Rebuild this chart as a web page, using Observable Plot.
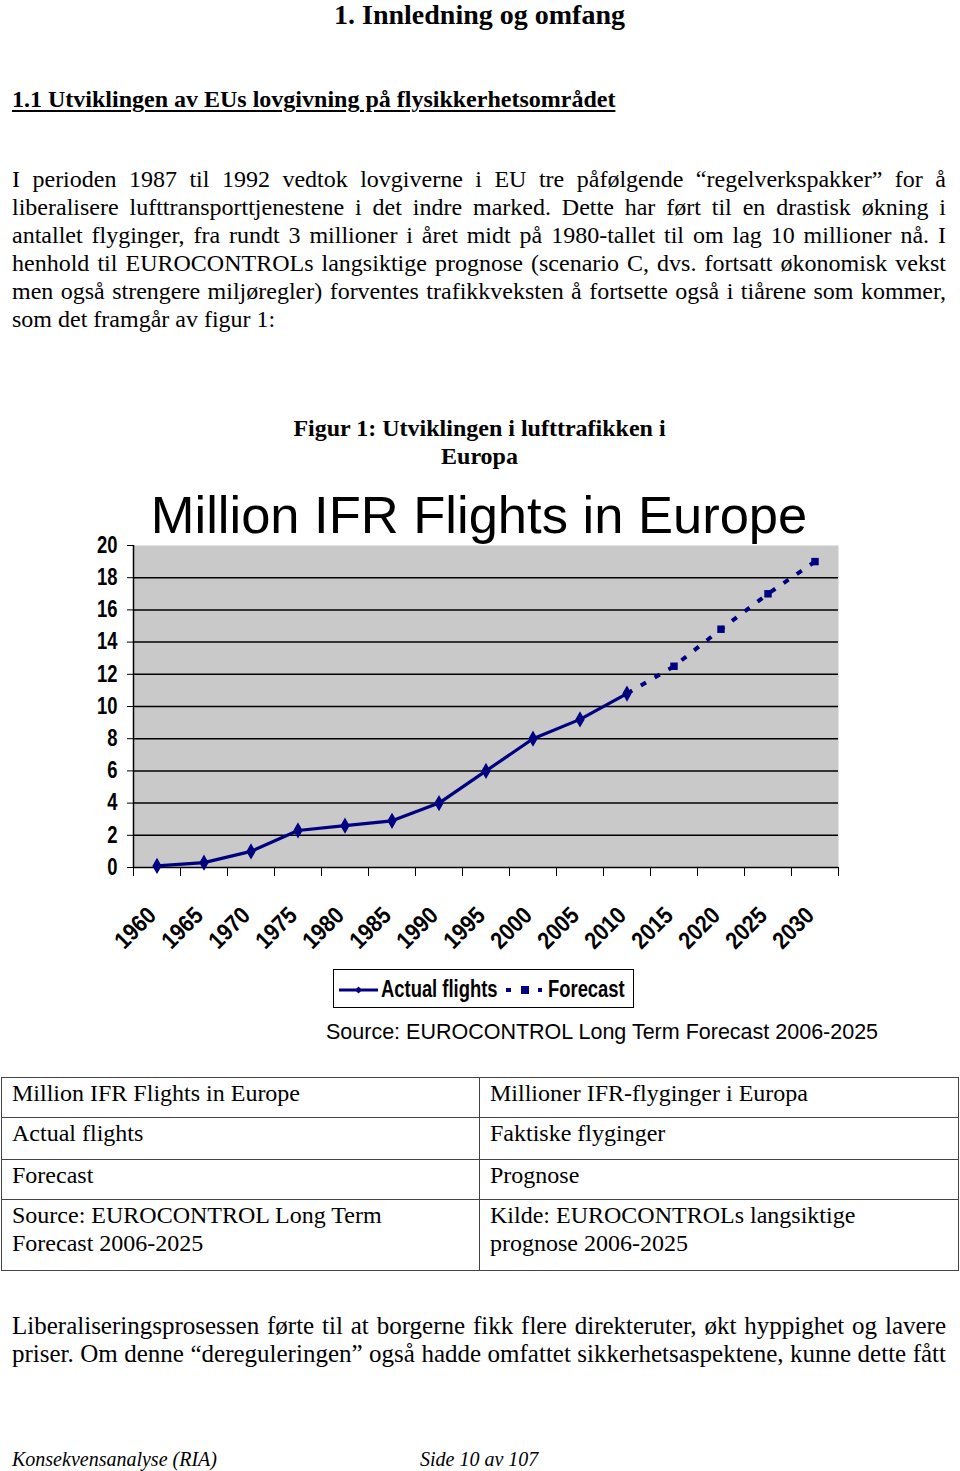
<!DOCTYPE html>
<html>
<head>
<meta charset="utf-8">
<script src="https://cdn.jsdelivr.net/npm/d3@7"></script>
<script src="https://cdn.jsdelivr.net/npm/@observablehq/plot@0.6"></script>
<style>
  html, body { margin: 0; padding: 0; background: #fff; }
  body { width: 960px; height: 1471px; position: relative; overflow: hidden; font-family: "Liberation Serif", "Times New Roman", serif; color: #000; }
  .abs { position: absolute; }
  .h1 { left: 0; width: 959px; top: -1px; text-align: center; font-weight: bold; font-size: 28px; line-height: 32px; }
  .h2 { left: 12px; top: 85px; font-weight: bold; font-size: 24px; line-height: 28px; text-decoration: underline; text-decoration-thickness: 2px; text-underline-offset: 3px; }
  .para { left: 12px; width: 934px; font-size: 24px; line-height: 28px; }
  .para div { text-align: justify; text-align-last: justify; white-space: nowrap; }
  .para div.last { text-align-last: left; }
  .cap { left: 0; width: 959px; top: 414px; text-align: center; font-weight: bold; font-size: 24px; line-height: 28px; }
  .ctitle { left: 0; width: 958px; top: 489px; text-align: center; font-family: "Liberation Sans", Arial, sans-serif; font-size: 52.5px; line-height: 52px; white-space: nowrap; }
  #chart { left: 0; top: 530px; }
  .legend { left: 333px; top: 969px; width: 299px; height: 37px; border: 1px solid #000; font-family: "Liberation Sans", Arial, sans-serif; font-weight: bold; font-size: 23px; }
  .legend span { position: absolute; top: 6px; line-height: 26px; white-space: nowrap; transform: scaleX(0.8); transform-origin: 0 50%; }
  .legend svg { position: absolute; top: 0; }
  .source { left: 326px; top: 1022px; font-family: "Liberation Sans", Arial, sans-serif; font-size: 21.5px; line-height: 21px; white-space: nowrap; }
  table.tr { position: absolute; left: 1px; top: 1077px; width: 957px; border-collapse: collapse; font-size: 24px; line-height: 28px; table-layout: fixed; }
  table.tr td { border: 1px solid #444; vertical-align: top; padding: 1px 10px 0 10px; }
  .foot { top: 1448px; font-style: italic; font-size: 20px; line-height: 23px; white-space: nowrap; }
</style>
</head>
<body>
<div class="abs h1">1. Innledning og omfang</div>
<div class="abs h2">1.1 Utviklingen av EUs lovgivning på flysikkerhetsområdet</div>
<div class="abs para" style="top:165px">
  <div>I perioden 1987 til 1992 vedtok lovgiverne i EU tre påfølgende “regelverkspakker” for å</div>
  <div>liberalisere lufttransporttjenestene i det indre marked. Dette har ført til en drastisk økning i</div>
  <div>antallet flyginger, fra rundt 3 millioner i året midt på 1980-tallet til om lag 10 millioner nå. I</div>
  <div>henhold til EUROCONTROLs langsiktige prognose (scenario C, dvs. fortsatt økonomisk vekst</div>
  <div>men også strengere miljøregler) forventes trafikkveksten å fortsette også i tiårene som kommer,</div>
  <div class="last">som det framgår av figur 1:</div>
</div>
<div class="abs cap">Figur 1: Utviklingen i lufttrafikken i<br>Europa</div>
<div class="abs ctitle">Million IFR Flights in Europe</div>
<div class="abs" id="chart"></div>
<div class="abs legend" id="legend"></div>
<div class="abs source">Source: EUROCONTROL Long Term Forecast 2006-2025</div>
<table class="tr">
  <colgroup><col style="width:478px"><col style="width:479px"></colgroup>
  <tr style="height:40px"><td>Million IFR Flights in Europe</td><td>Millioner IFR-flyginger i Europa</td></tr>
  <tr style="height:42px"><td>Actual flights</td><td>Faktiske flyginger</td></tr>
  <tr style="height:40px"><td>Forecast</td><td>Prognose</td></tr>
  <tr style="height:71px"><td>Source: EUROCONTROL Long Term<br>Forecast 2006-2025</td><td>Kilde: EUROCONTROLs langsiktige<br>prognose 2006-2025</td></tr>
</table>
<div class="abs para" style="top:1312px; font-size:25px">
  <div>Liberaliseringsprosessen førte til at borgerne fikk flere direkteruter, økt hyppighet og lavere</div>
  <div>priser. Om denne “dereguleringen” også hadde omfattet sikkerhetsaspektene, kunne dette fått</div>
</div>
<div class="abs foot" style="left:12px">Konsekvensanalyse (RIA)</div>
<div class="abs foot" style="left:420px">Side 10 av 107</div>

<script>
// ---- data ----
const categories = [1960, 1965, 1970, 1975, 1980, 1985, 1990, 1995, 2000, 2005, 2010, 2015, 2020, 2025, 2030];
const actualYears = [1960, 1965, 1970, 1975, 1980, 1985, 1990, 1995, 2000, 2005, 2010];
const actualValues = [0.1, 0.3, 1.0, 2.3, 2.6, 2.9, 4.0, 6.0, 8.0, 9.2, 10.8];
const forecastYears = [2010, 2015, 2020, 2025, 2030];
const forecastValues = [10.8, 12.5, 14.8, 17.0, 19.0];
const yTicks = [0, 2, 4, 6, 8, 10, 12, 14, 16, 18, 20];
const seriesNames = ["Actual flights", "Forecast"];

const navy = "#000080";

const actual = actualYears.map((year, i) => ({year, value: actualValues[i]}));
const forecast = forecastYears.map((year, i) => ({year, value: forecastValues[i]}));
const half = (categories[1] - categories[0]) / 2;
const bounds = categories.map(c => c - half).concat([categories[categories.length - 1] + half]);

const chart = Plot.plot({
  width: 960,
  height: 430,
  marginLeft: 133,
  marginRight: 122,
  marginTop: 15,
  marginBottom: 93,
  x: {domain: [bounds[0], bounds[bounds.length - 1]]},
  y: {domain: [0, 20]},
  style: {fontFamily: '"Liberation Sans", Arial, sans-serif', fontSize: "23px", fontWeight: "bold", color: "#000", background: "transparent", overflow: "visible"},
  marks: [
    Plot.frame({fill: "#c9c9c9", stroke: "none"}),
    Plot.ruleY(yTicks.filter(d => d > 0 && d < 20), {stroke: "#000", strokeWidth: 1.5}),
    Plot.ruleY([0], {stroke: "#000", strokeWidth: 1.5}),
    Plot.ruleX([bounds[0]], {stroke: "#000", strokeWidth: 1.5}),
    Plot.axisY({ticks: yTicks, tickSize: 6, tickPadding: 10, label: null, tickFormat: d => String(d), stroke: "#000"}),
    Plot.axisX({ticks: bounds, tickSize: 9, tickFormat: () => "", label: null}),
    Plot.axisX({ticks: categories, tickSize: 0, tickRotate: -45, tickPadding: 44, dx: -5, fontSize: 24, tickFormat: d => String(d), label: null}),
    Plot.line(forecast, {x: "year", y: "value", stroke: navy, strokeWidth: 4, strokeDasharray: "6,10", strokeLinecap: "butt"}),
    Plot.line(actual, {x: "year", y: "value", stroke: navy, strokeWidth: 3.2}),
    Plot.dot(actual, {x: "year", y: "value", symbol: "diamond", r: 4, fill: navy, stroke: navy}),
    Plot.dot(forecast.slice(1), {x: "year", y: "value", symbol: "square", r: 4.2, fill: navy, stroke: "none"})
  ]
});
// condense axis tick labels (Arial Narrow look)
chart.querySelectorAll('g[aria-label="y-axis tick label"] text').forEach(t => {
  const tr = t.getAttribute("transform") || "";
  t.setAttribute("transform", (tr + " scale(0.8,1)").trim());
});
chart.querySelectorAll('g[aria-label="x-axis tick label"] text').forEach(t => {
  const tr = t.getAttribute("transform") || "";
  t.setAttribute("transform", (tr + " scale(0.88,1)").trim());
});
document.getElementById("chart").appendChild(chart);

// legend
const lg = document.getElementById("legend");
lg.innerHTML =
  '<svg width="46" height="37" style="left:4px"><line x1="1" y1="20" x2="40" y2="20" stroke="' + navy + '" stroke-width="3.2"/>' +
  '<path d="M20.5,16.5 L24,20 L20.5,23.5 L17,20 Z" fill="' + navy + '"/></svg>' +
  '<span style="left:47px">' + seriesNames[0] + '</span>' +
  '<svg width="40" height="37" style="left:172px"><line x1="0" y1="20" x2="36" y2="20" stroke="' + navy + '" stroke-width="4" stroke-dasharray="5,11"/>' +
  '<rect x="15" y="16" width="8" height="8" fill="' + navy + '"/></svg>' +
  '<span style="left:214px">' + seriesNames[1] + '</span>';
</script>
</body>
</html>
